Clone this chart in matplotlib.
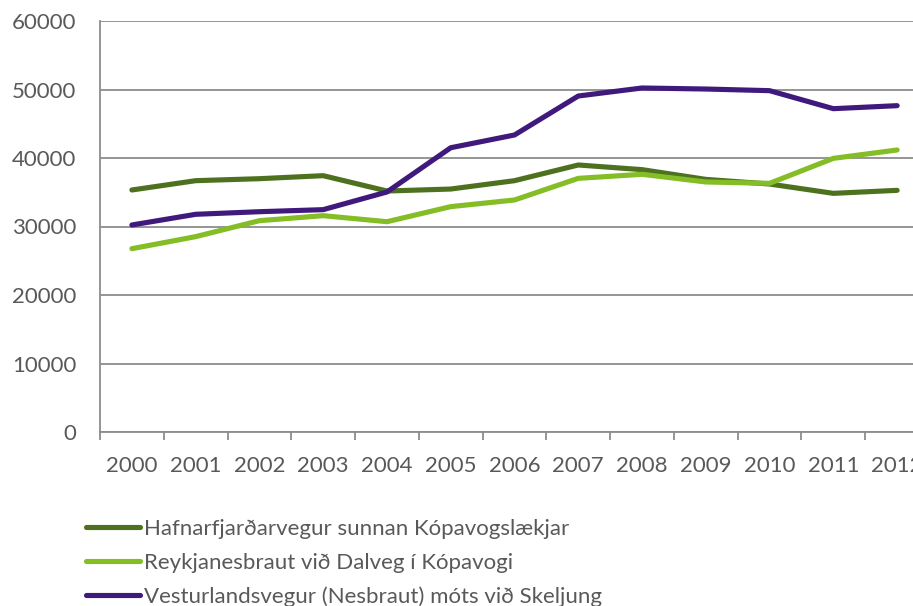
import matplotlib
matplotlib.use("Agg")
import matplotlib.pyplot as plt
import numpy as np

years = ["2000", "2001", "2002", "2003", "2004", "2005", "2006",
         "2007", "2008", "2009", "2010", "2011", "2012"]

hafnarfjardarvegur = [35330, 36690, 36980, 37420, 35180, 35470, 36690,
                      38980, 38300, 36880, 36200, 34840, 35280]
reykjanesbraut = [26760, 28520, 30850, 31580, 30700, 32900, 33870,
                  37030, 37620, 36500, 36300, 39950, 41170]
vesturlandsvegur = [30220, 31780, 32160, 32460, 35040, 41500, 43360,
                    49050, 50220, 50070, 49830, 47200, 47640]

series_names = ["Hafnarfjarðarvegur sunnan Kópavogslækjar",
                "Reykjanesbraut við Dalveg í Kópavogi",
                "Vesturlandsvegur (Nesbraut) móts við Skeljung"]
series_colors = ["#4e7120", "#84bd26", "#40197d"]

y_ticks = [0, 10000, 20000, 30000, 40000, 50000, 60000]

plt.rcParams["font.family"] = ["Lato", "DejaVu Sans"]
text_color = "#595959"
grid_color = "#8c8c8c"
fs = 16

fig = plt.figure(figsize=(9.13, 6.06), dpi=100)
W, H = 913, 606
# axes spans past the right edge of the figure, so the last category is clipped
ax = fig.add_axes([100 / W, 1 - 432 / H, 829 / W, 411 / H])

x = np.arange(len(years))
for vals, name, col in zip([hafnarfjardarvegur, reykjanesbraut, vesturlandsvegur],
                           series_names, series_colors):
    ax.plot(x, vals, color=col, lw=3.7, solid_capstyle="round",
            solid_joinstyle="round", label=name, zorder=3)

ax.set_xlim(-0.5, len(years) - 0.5)
ax.set_ylim(0, 60000)
ax.set_yticks(y_ticks)
ax.set_yticklabels([str(v) for v in y_ticks])
ax.set_xticks(x)
ax.set_xticklabels(years)
ax.set_xticks(np.arange(len(years) + 1) - 0.5, minor=True)

ax.yaxis.grid(True, color=grid_color, lw=1.3)
ax.set_axisbelow(True)
for s in ["top", "right"]:
    ax.spines[s].set_visible(False)
for s in ["left", "bottom"]:
    ax.spines[s].set_color(grid_color)
    ax.spines[s].set_linewidth(1.3)

ax.tick_params(axis="y", length=0, pad=17, labelsize=fs, labelcolor=text_color)
ax.tick_params(axis="x", which="major", length=0, pad=17, labelsize=fs,
               labelcolor=text_color)
ax.tick_params(axis="x", which="minor", length=6, width=1.3, color=grid_color)

leg = fig.legend(loc="upper left", bbox_to_anchor=(86 / W, 1 - 519 / H),
                 frameon=False, fontsize=fs, handlelength=2.45,
                 handletextpad=0.18, labelspacing=0.62, borderaxespad=0,
                 borderpad=0)
for t in leg.get_texts():
    t.set_color(text_color)

fig.savefig("out.png", dpi=100)
